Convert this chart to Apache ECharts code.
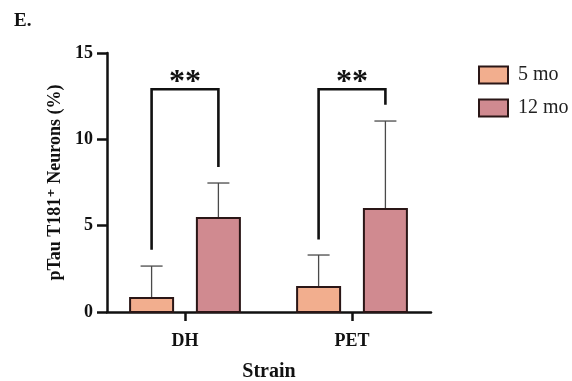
<!DOCTYPE html>
<html>
<head>
<meta charset="utf-8">
<script src="https://cdn.jsdelivr.net/npm/echarts@6/dist/echarts.min.js"></script>
<style>
  html, body { margin: 0; padding: 0; background: #fff; }
  #chart { width: 572px; height: 381px; }
</style>
</head>
<body>
<div id="chart"></div>
<script>
var categories = ['DH', 'PET'];
var seriesNames = ['5 mo', '12 mo'];
var mo5 = [0.81, 1.45];
var mo12 = [5.44, 5.96];
var err5 = [2.66, 3.3];
var err12 = [7.47, 11.06];
// significance brackets: left leg low end, right leg low end, top
var bracketLeft = [3.6, 4.2];
var bracketRight = [8.4, 12.0];
var bracketTop = [12.9, 12.9];
var stars = ['**', '**'];
var yTicks = [0, 5, 10, 15];

var serif = 'Liberation Serif, DejaVu Serif, serif';
var dark = '#2a1616';
var fills = ['#F2AE8E', '#D08A90'];

function barItem(offset, fill) {
  return function (params, api) {
    var i = api.value(0);
    var top = api.coord([i + offset, api.value(1)]);
    var base = api.coord([i + offset, 0]);
    var eTop = api.coord([i + offset, api.value(2)]);
    var w = 43, cap = 11;
    return {
      type: 'group',
      children: [
        { type: 'line', shape: { x1: top[0], y1: top[1], x2: eTop[0], y2: eTop[1] },
          style: { stroke: '#4a4a4a', lineWidth: 1.3 } },
        { type: 'line', shape: { x1: eTop[0] - cap, y1: eTop[1], x2: eTop[0] + cap, y2: eTop[1] },
          style: { stroke: '#4a4a4a', lineWidth: 1.3 } },
        { type: 'rect', shape: { x: top[0] - w / 2, y: top[1], width: w, height: base[1] - top[1] },
          style: { fill: fill, stroke: dark, lineWidth: 2 } }
      ]
    };
  };
}

function bracketItem(params, api) {
  var i = api.value(0);
  var l = api.coord([i - 0.2, api.value(1)]);
  var r = api.coord([i + 0.2, api.value(2)]);
  var t = api.coord([i, api.value(3)]);
  return {
    type: 'group',
    children: [
      { type: 'polyline', shape: { points: [[l[0], l[1]], [l[0], t[1]], [r[0], t[1]], [r[0], r[1]]] },
        style: { stroke: '#111', lineWidth: 2.6, fill: null } },
      { type: 'text', x: t[0], y: t[1] - 7,
        style: { text: stars[params.dataIndex], fontSize: 32, fontWeight: 'bold', fontFamily: serif,
                 fill: '#111', align: 'center', verticalAlign: 'middle' } }
    ]
  };
}

var chart = echarts.init(document.getElementById('chart'));
chart.setOption({
  animation: false,
  title: { text: 'E.', left: 9, top: 7,
    textStyle: { fontFamily: serif, fontWeight: 'bold', fontSize: 19, color: '#111' } },
  legend: {
    orient: 'vertical', left: 473, top: 60, itemWidth: 29, itemHeight: 17, itemGap: 13,
    icon: 'rect', data: seriesNames,
    itemStyle: { borderColor: dark, borderWidth: 2 },
    textStyle: { fontFamily: serif, fontSize: 20, color: '#222', padding: [0, 0, 0, 5] }
  },
  grid: { left: 107, right: 141, top: 53, bottom: 69, outerBoundsMode: 'none' },
  xAxis: {
    type: 'value', min: -0.467, max: 1.473,
    name: 'Strain', nameLocation: 'middle', nameGap: 50,
    nameTextStyle: { fontFamily: serif, fontWeight: 'bold', fontSize: 20, color: '#111' },
    splitLine: { show: false },
    axisLine: { lineStyle: { color: '#111', width: 2.5 } },
    axisTick: { customValues: [0, 1], length: 9, lineStyle: { color: '#111', width: 2.5 } },
    axisLabel: { customValues: [0, 1], margin: 20,
      formatter: function (v) { return categories[Math.round(v)]; },
      fontFamily: serif, fontWeight: 'bold', fontSize: 18, color: '#111' }
  },
  yAxis: {
    type: 'value', min: 0, max: 15, interval: 5,
    name: 'pTau T181⁺ Neurons (%)', nameLocation: 'middle', nameGap: 41,
    nameTextStyle: { fontFamily: serif, fontWeight: 'bold', fontSize: 18, color: '#111' },
    splitLine: { show: false },
    axisLine: { show: true, onZero: false, lineStyle: { color: '#111', width: 2.5 } },
    axisTick: { show: true, length: 10, lineStyle: { color: '#111', width: 2.5 } },
    axisLabel: { margin: 14, fontFamily: serif, fontWeight: 'bold', fontSize: 18, color: '#111',
      formatter: function (v) { return yTicks.indexOf(v) >= 0 ? String(v) : ''; } }
  },
  series: [
    { name: seriesNames[0], type: 'custom', itemStyle: { color: fills[0] },
      renderItem: barItem(-0.2, fills[0]), encode: { x: 0, y: [1, 2] },
      data: mo5.map(function (v, i) { return [i, v, err5[i]]; }) },
    { name: seriesNames[1], type: 'custom', itemStyle: { color: fills[1] },
      renderItem: barItem(0.2, fills[1]), encode: { x: 0, y: [1, 2] },
      data: mo12.map(function (v, i) { return [i, v, err12[i]]; }) },
    { name: 'sig', type: 'custom', renderItem: bracketItem, encode: { x: 0, y: [1, 2, 3] },
      data: categories.map(function (c, i) { return [i, bracketLeft[i], bracketRight[i], bracketTop[i]]; }) }
  ]
});
</script>
</body>
</html>
